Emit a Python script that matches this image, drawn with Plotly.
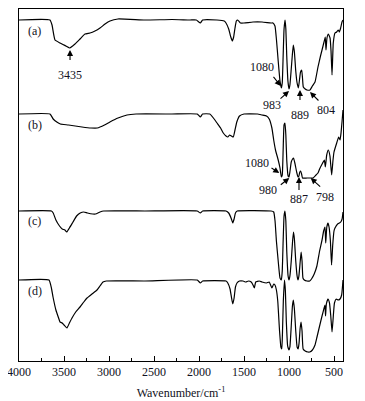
import plotly.graph_objects as go

# ---------------- data (wavenumber cm-1, transmittance in arbitrary stacked units) ----------------
wn_a = [4000, 3656, 3633, 3600, 3544, 3478, 3435, 3378, 3322, 3267, 3211, 3156, 3100, 3044, 2989, 2900,
        2600, 2300, 2100, 2030, 1985, 1960, 1800, 1720, 1700, 1670, 1650, 1630, 1615, 1600, 1585, 1570,
        1540, 1500, 1400, 1300, 1200, 1178, 1156, 1140, 1120, 1100, 1085, 1075, 1065, 1055, 1044, 1035,
        1025, 1012, 1000, 990, 975, 963, 952, 940, 925, 910, 896, 885, 872, 859, 850, 841, 820, 800,
        767, 740, 711, 678, 650, 633, 611, 597, 589, 578, 563, 544, 533, 522, 508, 489, 470, 452, 441,
        426, 411, 400]
tr_a = [341, 341, 336, 321, 318, 315, 313, 317, 322, 327, 328, 330, 333, 337, 340, 342,
        341, 341.5, 341, 341, 338, 341, 341, 340, 338, 332, 325, 320, 324, 333, 340, 341,
        338, 338, 339, 339, 338, 338, 335, 322, 300, 280, 273, 278, 305, 332, 341, 332,
        305, 280, 272, 276, 292, 306, 316, 309, 290, 278, 273, 280, 289, 291, 283, 274, 272, 271,
        271, 275, 279, 294, 305, 311, 319, 324, 311, 323, 327, 323, 310, 286, 318, 328, 329, 331, 329,
        333, 339, 341]

wn_b = [4000, 3656, 3620, 3580, 3540, 3450, 3300, 3200, 3130, 3050, 2990, 2900, 2800, 2700, 2300,
        2020, 1985, 1960, 1880, 1840, 1800, 1760, 1730, 1700, 1680, 1660, 1640, 1620, 1600, 1580,
        1550, 1500, 1350, 1300, 1250, 1220, 1190, 1170, 1150, 1120, 1100, 1085, 1075, 1065, 1055,
        1045, 1035, 1025, 1010, 1000, 990, 975, 960, 950, 935, 915, 900, 890, 880, 870, 860, 850,
        800, 760, 733, 700, 678, 660, 626, 607, 596, 581, 563, 545, 526, 512, 500, 470, 448, 433,
        422, 410, 400]
tr_b = [247, 247, 242, 239, 237, 236, 234, 233, 233, 236, 239, 243, 246, 247, 247,
        247, 244, 247, 247, 243, 238, 233, 228, 225, 224, 226, 225, 224, 231, 239,
        245, 247, 247, 246, 245, 242, 233, 221, 211, 201, 193, 184, 186, 211, 236,
        238, 226, 201, 185, 184, 189, 199, 202, 203, 198, 189, 184, 185, 189, 190, 187, 183,
        183, 183, 183, 186, 188, 192, 198, 201, 194, 206, 211, 205, 186, 200, 209, 218, 224, 221,
        228, 240, 251]

wn_c = [4000, 3640, 3620, 3590, 3550, 3520, 3490, 3470, 3440, 3400, 3360, 3320, 3280, 3240, 3180,
        3150, 3100, 3060, 2600, 2020, 1985, 1960, 1700, 1670, 1640, 1625, 1610, 1595, 1575, 1200,
        1170, 1155, 1140, 1120, 1100, 1085, 1075, 1065, 1055, 1045, 1035, 1025, 1010, 1000, 990,
        975, 960, 950, 940, 925, 910, 900, 890, 875, 865, 855, 845, 830, 800, 770, 750, 720, 690,
        660, 633, 615, 600, 592, 580, 567, 555, 540, 527, 515, 500, 489, 460, 440, 425, 410, 400]
tr_c = [150, 150, 148, 141, 135, 132, 131, 129, 133, 139, 145, 148, 149, 148, 147,
        147, 149, 150, 150, 150, 148, 150, 150, 148, 142, 138, 142, 148, 150, 150,
        149, 140, 120, 100, 83, 81, 90, 120, 145, 150, 140, 110, 85, 81, 85,
        100, 120, 129, 122, 100, 85, 81, 85, 100, 109, 100, 83, 81, 80, 80, 82, 87, 95,
        110, 121, 130, 134, 118, 134, 138, 134, 120, 96, 115, 130, 133, 137, 138, 139, 142, 149]

wn_d = [4000, 3667, 3640, 3622, 3590, 3560, 3544, 3520, 3500, 3467, 3440, 3411, 3370, 3322, 3280,
        3244, 3190, 3133, 3100, 3067, 3030, 2600, 2020, 1985, 1960, 1700, 1680, 1655, 1640, 1625,
        1610, 1595, 1578, 1550, 1510, 1480, 1450, 1420, 1400, 1385, 1370, 1330, 1300, 1250, 1220,
        1190, 1170, 1156, 1140, 1125, 1105, 1090, 1080, 1072, 1063, 1050, 1040, 1030, 1015, 1000,
        990, 975, 962, 952, 940, 925, 910, 898, 888, 876, 866, 855, 843, 820, 790, 770, 740, 711,
        689, 660, 633, 610, 600, 594, 585, 567, 550, 535, 522, 510, 495, 475, 455, 433, 415, 400]
tr_d = [81, 81, 73, 64, 51, 43, 39, 38, 36, 33, 38, 43, 49, 54, 59,
        63, 67, 71, 75, 79, 80, 80, 81, 78, 80, 80, 78, 72, 64, 57,
        63, 74, 78, 80, 80, 79, 80, 79, 76, 73, 79, 80, 79, 78, 79,
        73, 77, 76, 71, 60, 30, 14, 12, 30, 60, 81, 70, 40, 15, 11,
        14, 35, 55, 61, 52, 30, 14, 12, 18, 33, 39, 30, 12, 10, 9, 9, 11, 16,
        24, 35, 45, 53, 56, 45, 57, 62, 58, 44, 29, 42, 58, 62, 61, 62, 66, 81]

series = [("a", wn_a, tr_a), ("b", wn_b, tr_b), ("c", wn_c, tr_c), ("d", wn_d, tr_d)]

panel_labels = ["(a)", "(b)", "(c)", "(d)"]
panel_label_y = [330, 236, 140, 70]

# peak annotations: (text, text_x, text_y, tail_x, tail_y, head_x, head_y)
peak_notes = [
    ("3435", 3433, 286, 3433, 299, 3433, 311),
    ("1080", 1303, 294, 1189, 286, 1092, 275),
    ("983", 1192, 256, 1111, 261, 1000, 270),
    ("889", 878, 246, 878, 259, 878, 271),
    ("804", 589, 251, 656, 259, 767, 269),
    ("1080", 1359, 198, 1211, 194, 1108, 188),
    ("980", 1230, 171, 1108, 175, 997, 183),
    ("887", 889, 162, 889, 169, 889, 184),
    ("798", 605, 164, 637, 173, 759, 183),
]

x_ticks = [4000, 3500, 3000, 2500, 2000, 1500, 1000, 500]

FONT = "Liberation Serif, Times New Roman, serif"
TXT = "#111122"

fig = go.Figure()
for name, wn, tr in series:
    fig.add_trace(go.Scatter(x=wn, y=tr, mode="lines", name=name,
                             line=dict(color="black", width=1.2, shape="spline", smoothing=0.4),
                             showlegend=False, hoverinfo="skip"))

annotations = []
for lab, ly in zip(panel_labels, panel_label_y):
    annotations.append(dict(x=3922, y=ly, xref="x", yref="y", text=lab, showarrow=False,
                            xanchor="left", yanchor="middle",
                            font=dict(family=FONT, size=12, color=TXT)))
for txt, tx, ty, ax, ay, hx, hy in peak_notes:
    annotations.append(dict(x=tx, y=ty, xref="x", yref="y", text=txt, showarrow=False,
                            xanchor="center", yanchor="middle",
                            font=dict(family=FONT, size=12, color=TXT)))
    annotations.append(dict(x=hx, y=hy, ax=ax, ay=ay, xref="x", yref="y", axref="x", ayref="y",
                            text=" ", showarrow=True, arrowhead=2, arrowsize=1.1, arrowwidth=1.1,
                            arrowcolor="black", standoff=0, startstandoff=0,
                            font=dict(size=1)))

# the page body has an 8px default margin, so the figure is sized to fit the 365x401 window
fig.update_layout(
    width=357, height=393,
    margin=dict(l=11, r=22, t=1, b=40, autoexpand=False),
    paper_bgcolor="white", plot_bgcolor="white",
    font=dict(family=FONT, size=12, color=TXT),
    annotations=annotations,
    xaxis=dict(range=[4000, 400], tickvals=x_ticks, ticktext=[str(v) for v in x_ticks],
               automargin=False, ticklabeloverflow="allow",
               ticks="inside", ticklen=5, tickwidth=1, tickcolor="black",
               minor=dict(ticks="inside", ticklen=3, tickwidth=1, tickcolor="black", dtick=250, tick0=0),
               showline=True, linecolor="black", linewidth=1, mirror=True,
               showgrid=False, zeroline=False,
               tickfont=dict(family=FONT, size=12, color=TXT),
               title=dict(text="Wavenumber/cm<sup>-1</sup>", standoff=10,
                          font=dict(family=FONT, size=12, color=TXT))),
    yaxis=dict(range=[0, 352], showticklabels=False, ticks="", showgrid=False, zeroline=False,
               automargin=False,
               showline=True, linecolor="black", linewidth=1, mirror=True),
)

fig.write_html("out.html")
